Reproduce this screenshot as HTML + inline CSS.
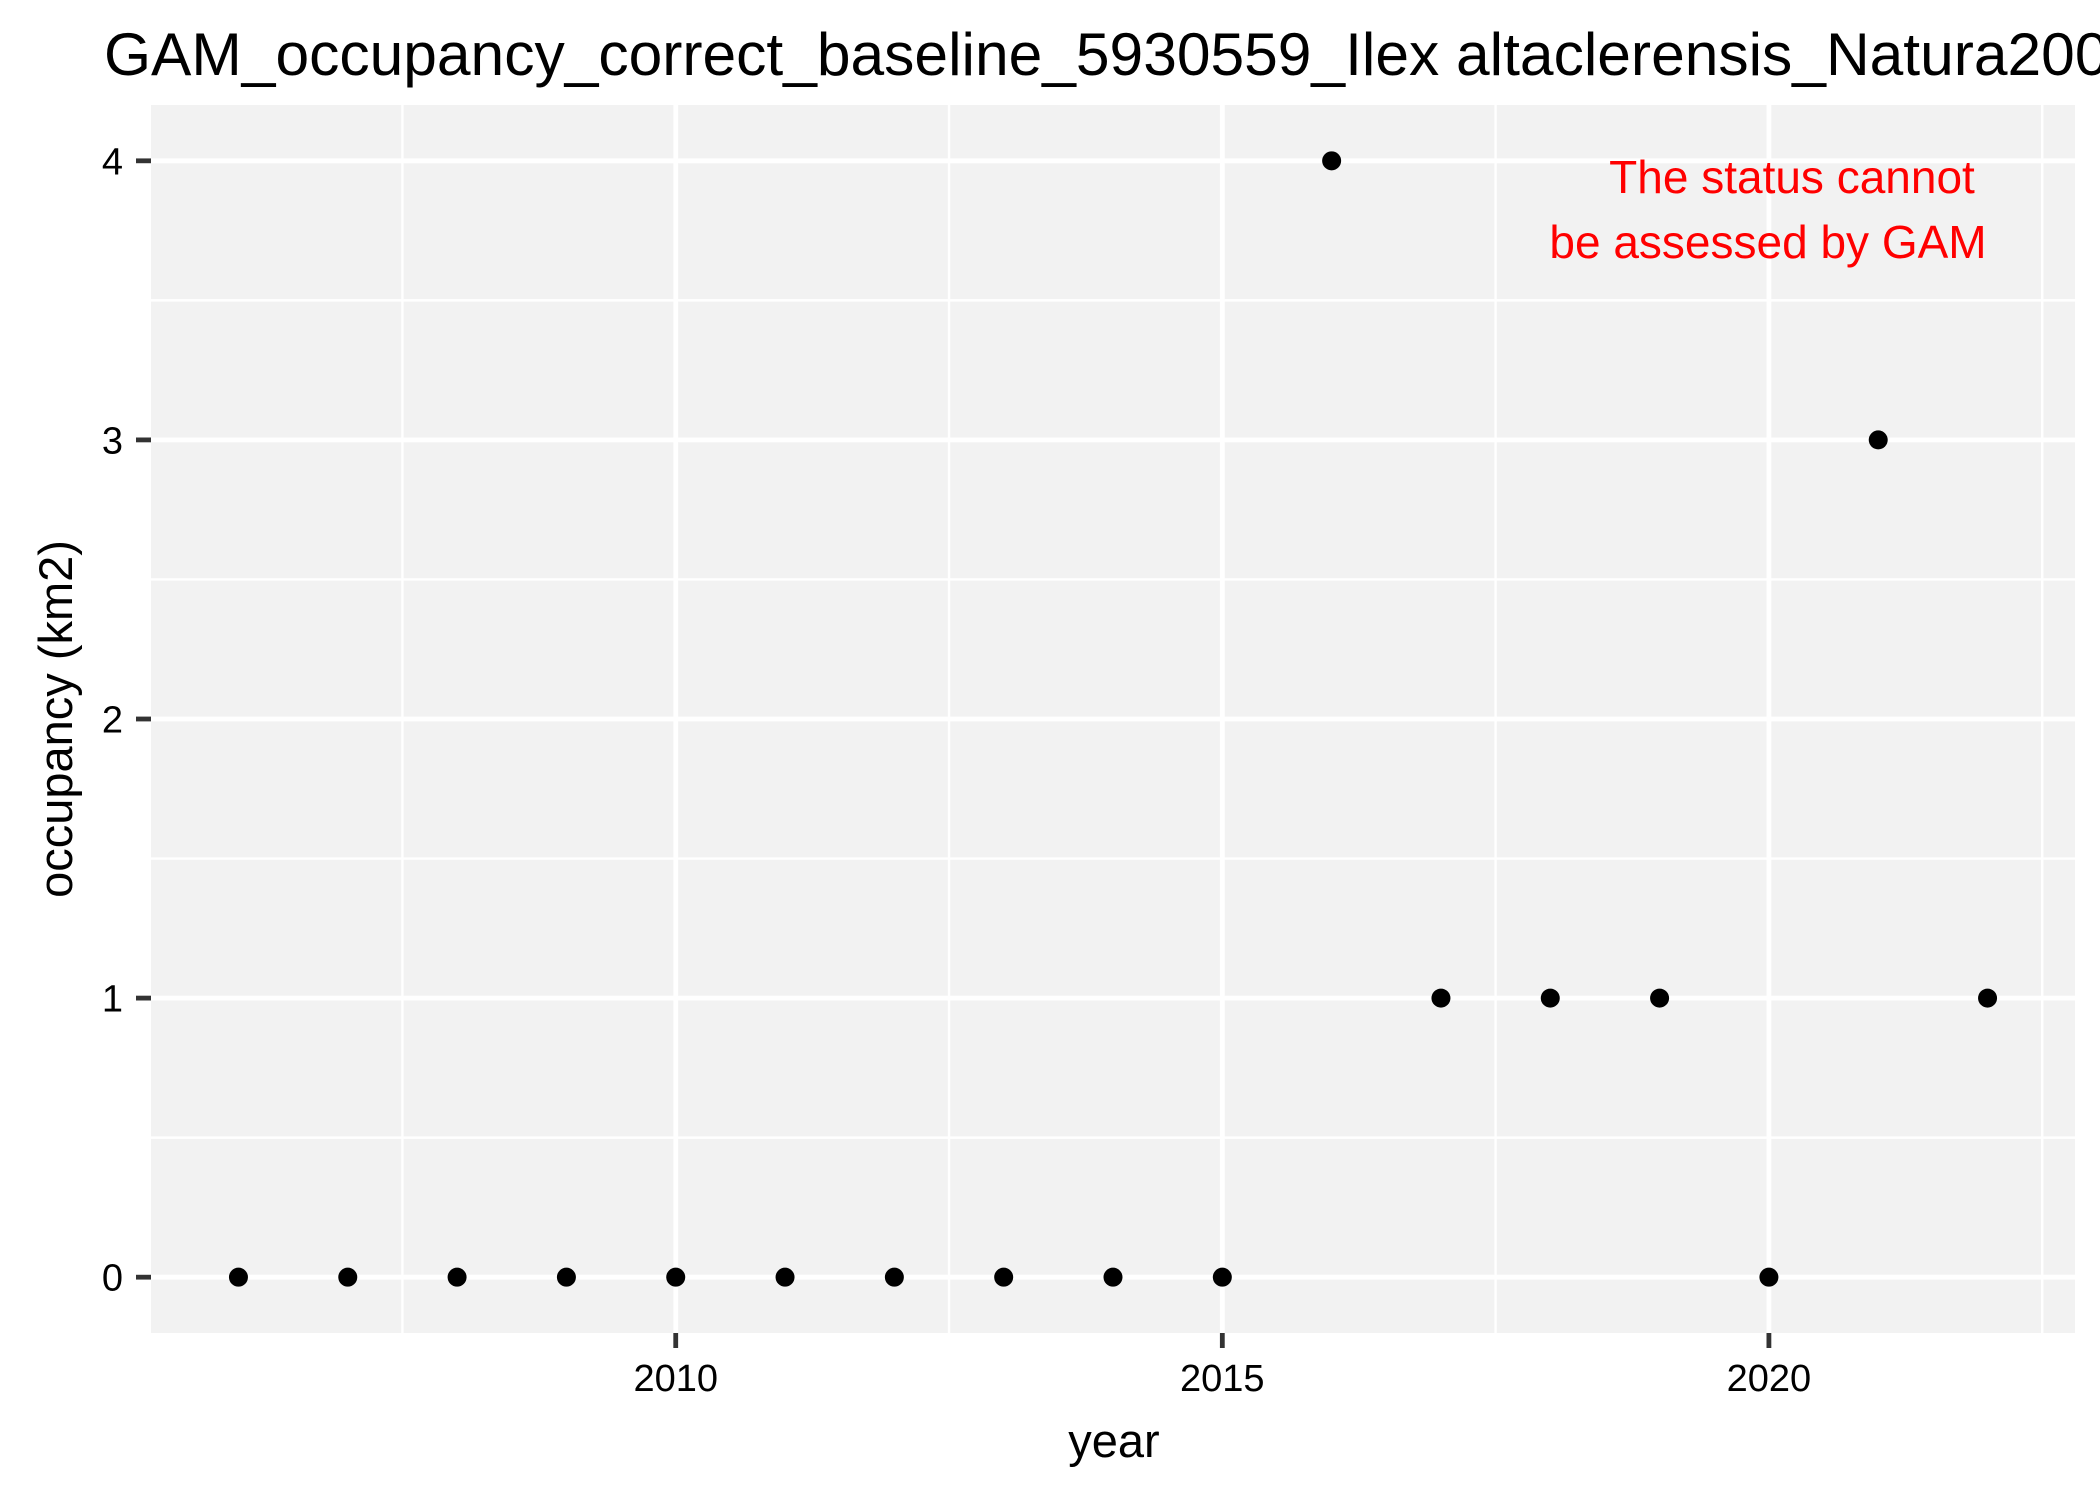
<!DOCTYPE html>
<html><head><meta charset="utf-8"><style>
html,body{margin:0;padding:0;background:#fff;overflow:hidden;}
svg{display:block;font-family:"Liberation Sans",Arial,sans-serif;}
</style></head><body>
<svg id="chart" width="2100" height="1499" viewBox="0 0 2100 1499" xmlns="http://www.w3.org/2000/svg">
<rect x="0" y="0" width="2100" height="1499" fill="#fff"/>
<text x="104" y="75" font-size="60.5" fill="#000">GAM_occupancy_correct_baseline_5930559_Ilex altaclerensis_Natura2000</text>
<rect x="151" y="105" width="1924" height="1228" fill="#F2F2F2"/>
<g id="grid"></g>
<g id="points"></g>
<g id="axes"></g>
<text x="1792" y="193" font-size="46" fill="#ff0000" text-anchor="middle">The status cannot</text>
<text x="1768" y="258" font-size="46" fill="#ff0000" text-anchor="middle">be assessed by GAM</text>
<text x="1114" y="1457" font-size="47" fill="#000" text-anchor="middle">year</text>
<text transform="translate(72,719) rotate(-90)" font-size="47" fill="#000" text-anchor="middle">occupancy (km2)</text>
</svg>
<script>
const years = [2006,2007,2008,2009,2010,2011,2012,2013,2014,2015,2016,2017,2018,2019,2020,2021,2022];
const occupancy = [0,0,0,0,0,0,0,0,0,0,4,1,1,1,0,3,1];
const xTicks = [2010,2015,2020];
const xMinor = [2007.5,2012.5,2017.5,2022.5];
const yTicks = [0,1,2,3,4];
const yMinor = [0.5,1.5,2.5,3.5];

const PL=151,PR=2075,PT=105,PB=1333;
const xMin=2005.2,xMax=2022.8,yMin=-0.2,yMax=4.2;
function X(v){return PL+(v-xMin)/(xMax-xMin)*(PR-PL);}
function Y(v){return PB-(v-yMin)/(yMax-yMin)*(PB-PT);}
const NS="http://www.w3.org/2000/svg";
function mk(tag,attrs,parent){const e=document.createElementNS(NS,tag);for(const k in attrs)e.setAttribute(k,attrs[k]);parent.appendChild(e);return e;}
const grid=document.getElementById('grid'),pts=document.getElementById('points'),axes=document.getElementById('axes');

xMinor.forEach(v=>{const l=mk('line',{x1:X(v),x2:X(v),y1:PT,y2:PB,stroke:'#fff','stroke-width':2.4},grid);

});
yMinor.forEach(v=>{const l=mk('line',{x1:PL,x2:PR,y1:Y(v),y2:Y(v),stroke:'#fff','stroke-width':2.4},grid);

});
xTicks.forEach(v=>{const l=mk('line',{x1:X(v),x2:X(v),y1:PT,y2:PB,stroke:'#fff','stroke-width':4.8},grid);


const t=mk('line',{x1:X(v),x2:X(v),y1:PB,y2:PB+15,stroke:'#333','stroke-width':4.8},axes);


const tx=mk('text',{x:X(v),y:1391,'font-size':38,'text-anchor':'middle',fill:'#000'},axes);
tx.textContent=v;

});
yTicks.forEach(v=>{const l=mk('line',{x1:PL,x2:PR,y1:Y(v),y2:Y(v),stroke:'#fff','stroke-width':4.8},grid);


const t=mk('line',{x1:PL-15,x2:PL,y1:Y(v),y2:Y(v),stroke:'#333','stroke-width':4.8},axes);


const tx=mk('text',{x:123,y:Y(v)+13.5,'font-size':38,'text-anchor':'end',fill:'#000'},axes);
tx.textContent=v;

});
years.forEach((yr,i)=>{const c=mk('circle',{cx:X(yr),cy:Y(occupancy[i]),r:9.5,fill:'#000'},pts);

});
</script>
</body></html>
